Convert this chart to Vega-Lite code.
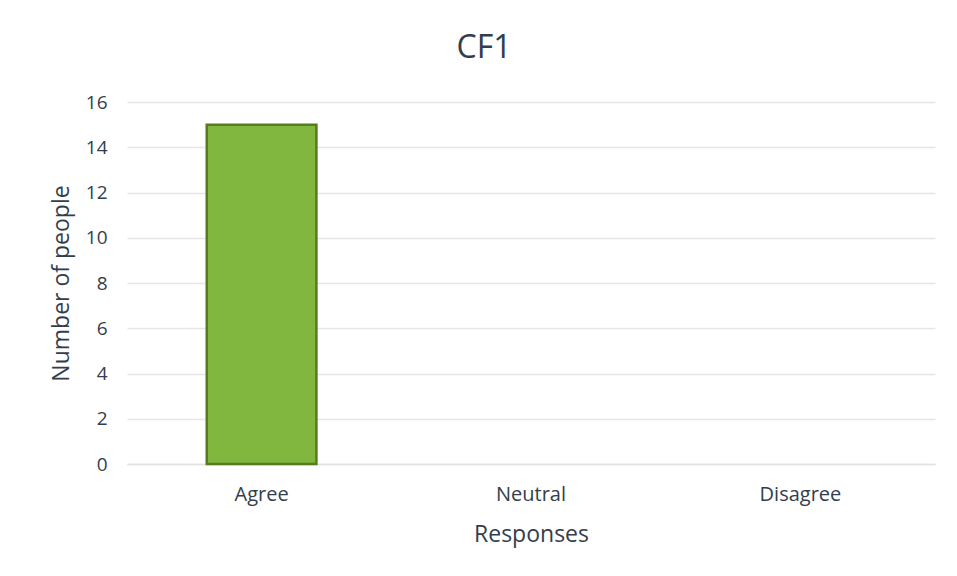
{
  "$schema": "https://vega.github.io/schema/vega-lite/v6.json",
  "width": 808,
  "height": 362,
  "autosize": {"type": "none"},
  "padding": {"left": 127, "top": 102, "right": 22, "bottom": 112},
  "background": "white",
  "title": {
    "text": "CF1",
    "fontSize": 32,
    "font": "Open Sans",
    "fontWeight": "normal",
    "color": "#333e4c",
    "anchor": "middle",
    "dx": -47,
    "offset": 28
  },
  "data": {
    "values": [
      {"response": "Agree", "people": 15},
      {"response": "Neutral", "people": 0},
      {"response": "Disagree", "people": 0}
    ]
  },
  "mark": {"type": "bar", "fill": "#82b73f", "stroke": "#587a20", "strokeWidth": 2.5},
  "encoding": {
    "x": {
      "field": "response",
      "type": "nominal",
      "sort": ["Agree", "Neutral", "Disagree"],
      "scale": {"paddingInner": 0.593, "paddingOuter": 0.296},
      "axis": {
        "title": "Responses",
        "labelAngle": 0,
        "labelFont": "Open Sans",
        "labelFontSize": 20,
        "labelColor": "#333e4c",
        "labelPadding": 20,
        "titleFont": "Open Sans",
        "titleFontSize": 23,
        "titleFontWeight": "normal",
        "titleColor": "#333e4c",
        "titlePadding": 19,
        "ticks": false,
        "domainColor": "#e2e2e2",
        "domainWidth": 1.5,
        "grid": false
      }
    },
    "y": {
      "field": "people",
      "type": "quantitative",
      "scale": {"domain": [0, 16]},
      "axis": {
        "title": "Number of people",
        "values": [0, 2, 4, 6, 8, 10, 12, 14, 16],
        "labelFont": "Open Sans",
        "labelFontSize": 19,
        "labelColor": "#333e4c",
        "labelPadding": 20,
        "titleFont": "Open Sans",
        "titleFontSize": 23,
        "titleFontWeight": "normal",
        "titleColor": "#333e4c",
        "titlePadding": 12,
        "ticks": false,
        "domain": false,
        "gridColor": "#e6e6e6",
        "gridWidth": 1.5
      }
    },
    "strokeOpacity": {
      "condition": {"test": "datum.people > 0", "value": 1},
      "value": 0
    }
  },
  "config": {"view": {"stroke": null}}
}
